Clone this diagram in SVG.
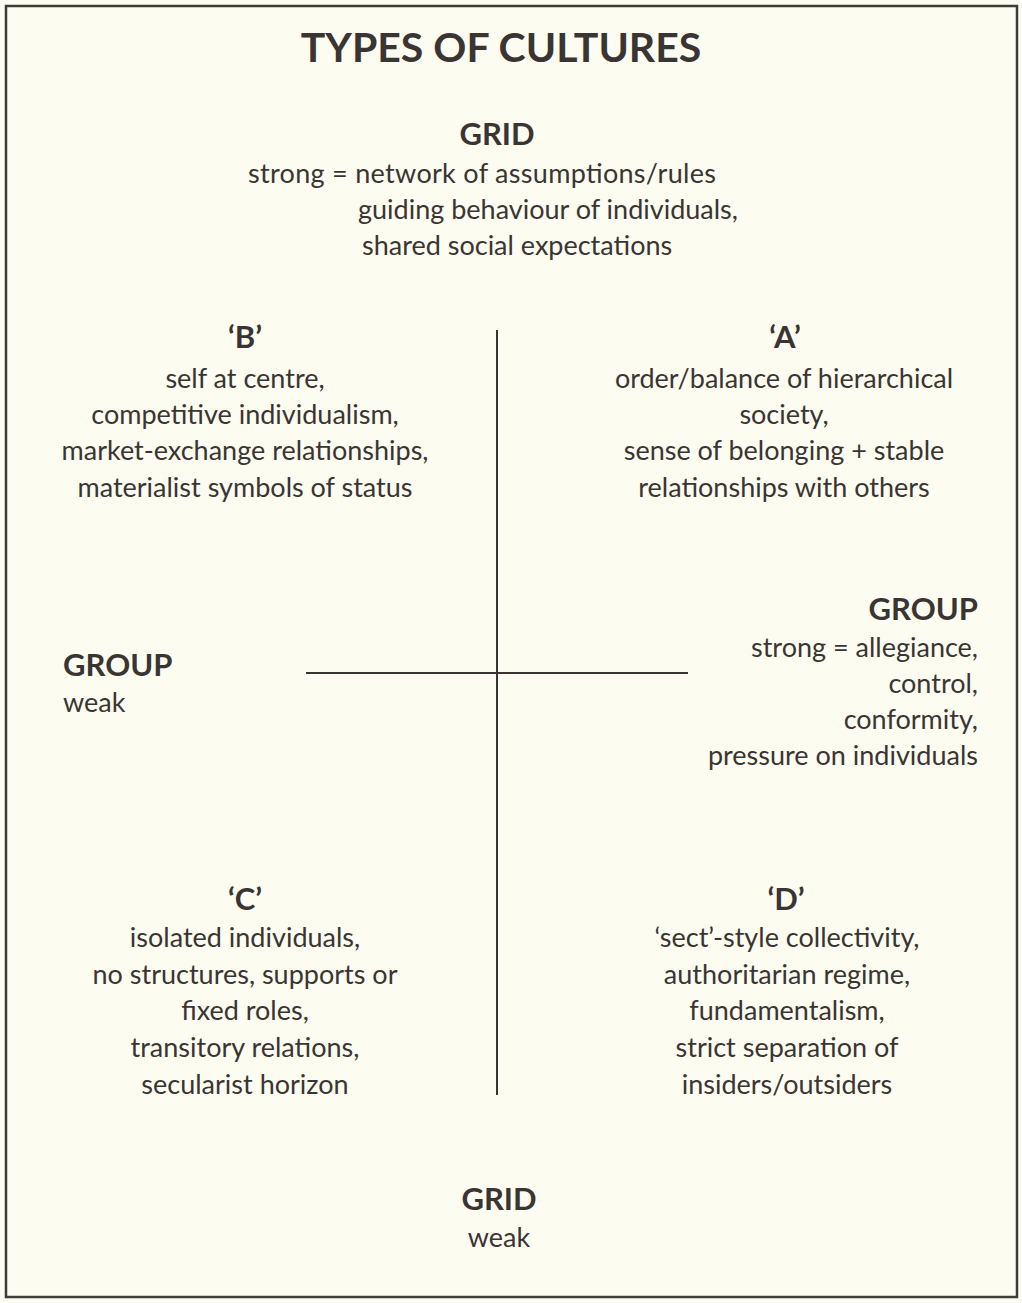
<svg xmlns="http://www.w3.org/2000/svg" width="1022" height="1303" viewBox="0 0 1022 1303">
<style>
text{font-family:Lato,"Open Sans","Liberation Sans",sans-serif;fill:#3a3533;font-size:27px}
.t{font-size:41px;font-weight:bold}
.h{font-size:31px;font-weight:bold}
.m{text-anchor:middle}
.r{text-anchor:end}
.ln{stroke:#3a3533;stroke-width:2;fill:none}
</style>
<rect x="0" y="0" width="1022" height="1303" fill="#fdfcf0"/>
<rect x="6" y="6" width="1011" height="1291" fill="none" stroke="#3f3b38" stroke-width="2.5"/>
<g id="title"><text class="t m" x="501" y="62">TYPES OF CULTURES</text></g>
<g id="connectors">
<line class="ln" x1="497" y1="330" x2="497" y2="1095"/>
<line class="ln" x1="306" y1="673" x2="688" y2="673"/>
</g>
<g id="grid-strong">
<text class="h m" x="497" y="145">GRID</text>
<text x="248" y="183" textLength="468" lengthAdjust="spacing">strong = network of assumptions/rules</text>
<text x="358" y="219">guiding behaviour of individuals,</text>
<text x="362" y="255">shared social expectations</text>
</g>
<g id="quadrant-B">
<text class="h m" x="245" y="348">‘B’</text>
<text class="m" x="245" y="388">self at centre,</text>
<text class="m" x="245" y="424">competitive individualism,</text>
<text class="m" x="245" y="460">market-exchange relationships,</text>
<text class="m" x="245" y="497">materialist symbols of status</text>
</g>
<g id="quadrant-A">
<text class="h m" x="785" y="348">‘A’</text>
<text class="m" x="784" y="388">order/balance of hierarchical</text>
<text class="m" x="784" y="424">society,</text>
<text class="m" x="784" y="460">sense of belonging + stable</text>
<text class="m" x="784" y="497">relationships with others</text>
</g>
<g id="group-weak">
<text class="h" x="63" y="676">GROUP</text>
<text x="63" y="712">weak</text>
</g>
<g id="group-strong">
<text class="h r" x="978" y="620">GROUP</text>
<text class="r" x="978" y="657">strong = allegiance,</text>
<text class="r" x="978" y="693">control,</text>
<text class="r" x="978" y="729">conformity,</text>
<text class="r" x="978" y="765">pressure on individuals</text>
</g>
<g id="quadrant-C">
<text class="h m" x="245" y="910">‘C’</text>
<text class="m" x="245" y="947">isolated individuals,</text>
<text class="m" x="245" y="984">no structures, supports or</text>
<text class="m" x="245" y="1020">fixed roles,</text>
<text class="m" x="245" y="1057">transitory relations,</text>
<text class="m" x="245" y="1094">secularist horizon</text>
</g>
<g id="quadrant-D">
<text class="h m" x="786" y="910">‘D’</text>
<text class="m" x="787" y="947">‘sect’-style collectivity,</text>
<text class="m" x="787" y="984">authoritarian regime,</text>
<text class="m" x="787" y="1020">fundamentalism,</text>
<text class="m" x="787" y="1057">strict separation of</text>
<text class="m" x="787" y="1094">insiders/outsiders</text>
</g>
<g id="grid-weak">
<text class="h m" x="499" y="1210">GRID</text>
<text class="m" x="499" y="1247">weak</text>
</g>
</svg>
